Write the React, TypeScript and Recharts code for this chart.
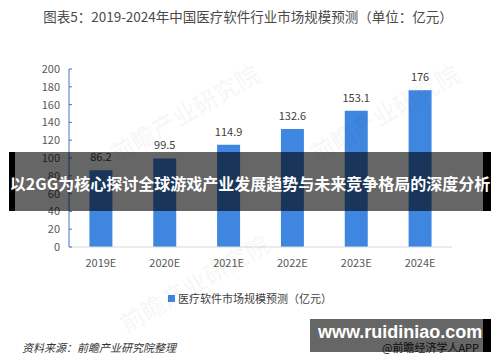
import React from 'react';
import { BarChart, Bar, XAxis, YAxis, LabelList, Legend } from 'recharts';

const categories = ['2019E', '2020E', '2021E', '2022E', '2023E', '2024E'];
const values = [86.2, 99.5, 114.9, 132.6, 153.1, 176];
const yTicks = [0, 20, 40, 60, 80, 100, 120, 140, 160, 180, 200];
const seriesName = '医疗软件市场规模预测（亿元）';
const title = '图表5：2019-2024年中国医疗软件行业市场规模预测（单位：亿元）';
const bannerText = '以2GG为核心探讨全球游戏产业发展趋势与未来竞争格局的深度分析';
const sourceText = '资料来源：前瞻产业研究院整理';

const data = categories.map((c, i) => ({ name: c, value: values[i] }));

const FONT = '"Noto Sans CJK SC", "Liberation Sans", sans-serif';

const LegendContent = () => (
  <div style={{ display: 'flex', justifyContent: 'center', alignItems: 'center', fontFamily: FONT, fontSize: 11, color: '#404040' }}>
    <span style={{ display: 'inline-block', width: 7, height: 7, background: '#3f86e1', marginRight: 3 }} />
    <span>{seriesName}</span>
  </div>
);

const wm: React.CSSProperties = { position: 'absolute', fontSize: 24, fontWeight: 700, color: 'rgba(0,0,0,0.035)', transform: 'rotate(-30deg)', whiteSpace: 'nowrap' };

export default function App() {
  return (
    <div style={{ position: 'absolute', left: 0, top: 0, width: 500, height: 362, background: '#fff', overflow: 'hidden', fontFamily: FONT }}>
      <BarChart width={500} height={362} data={data} margin={{ top: 69, right: 48, left: 9, bottom: 69 }} barCategoryGap="68%">
        <text x={248} y={22} textAnchor="middle" fontSize={13.5} fill="#4a4a4a" fontFamily={FONT}>{title}</text>
        <XAxis dataKey="name" axisLine={{ stroke: '#d9d9d9' }} tickLine={false} tick={{ fontSize: 11, fill: '#595959', fontFamily: FONT }} tickMargin={6} height={30} />
        <YAxis domain={[0, 200]} ticks={yTicks} interval={0} width={60} axisLine={{ stroke: '#4472c4' }} tickLine={{ stroke: '#4472c4' }} tickSize={-3} tickMargin={12} tick={{ fontSize: 11, fill: '#595959', fontFamily: FONT }} />
        <Legend verticalAlign="bottom" content={<LegendContent />} wrapperStyle={{ position: 'absolute', top: 290, left: 0, width: 500 }} />
        <Bar dataKey="value" name={seriesName} fill="#3f86e1" isAnimationActive={false}>
          <LabelList dataKey="value" position="top" offset={9} style={{ fontSize: 11, fill: '#404040', fontFamily: FONT }} />
        </Bar>
      </BarChart>

      {/* watermarks */}
      <div style={{ ...wm, left: 100, top: 95 }}>前瞻产业研究院</div>
      <div style={{ ...wm, left: 300, top: 95 }}>前瞻产业研究院</div>
      <div style={{ ...wm, left: 110, top: 265 }}>前瞻产业研究院</div>

      <div style={{ position: 'absolute', left: 22, top: 339, fontSize: 11, fontStyle: 'italic', color: '#333', whiteSpace: 'nowrap' }}>{sourceText}</div>
      <div style={{ position: 'absolute', left: 382, top: 339, fontSize: 11, color: '#222', whiteSpace: 'nowrap' }}>@前瞻经济学人APP</div>

      {/* top banner */}
      <div style={{ position: 'absolute', left: 9, top: 152, width: 6, height: 59, background: '#000' }} />
      <div style={{ position: 'absolute', left: 15, top: 152, width: 468, height: 59, background: 'rgba(0,0,0,0.6)' }} />
      <div style={{ position: 'absolute', left: 483, top: 152, width: 8, height: 59, background: '#000' }} />
      <div style={{ position: 'absolute', left: 0, top: 171, width: 500, textAlign: 'center', fontSize: 16, fontWeight: 700, color: '#fff', whiteSpace: 'nowrap', lineHeight: '24px' }}>{bannerText}</div>

      {/* bottom banner */}
      <div style={{ position: 'absolute', left: 310, top: 319, width: 173, height: 33, background: 'rgba(0,0,0,0.6)' }} />
      <div style={{ position: 'absolute', left: 483, top: 319, width: 8, height: 33, background: '#000' }} />
      <div style={{ position: 'absolute', left: 318, top: 320, width: 162, fontSize: 18, fontWeight: 700, color: '#fff', whiteSpace: 'nowrap', lineHeight: '24px', fontFamily: '"Liberation Sans", sans-serif' }}>www.ruidiniao.com</div>
    </div>
  );
}
